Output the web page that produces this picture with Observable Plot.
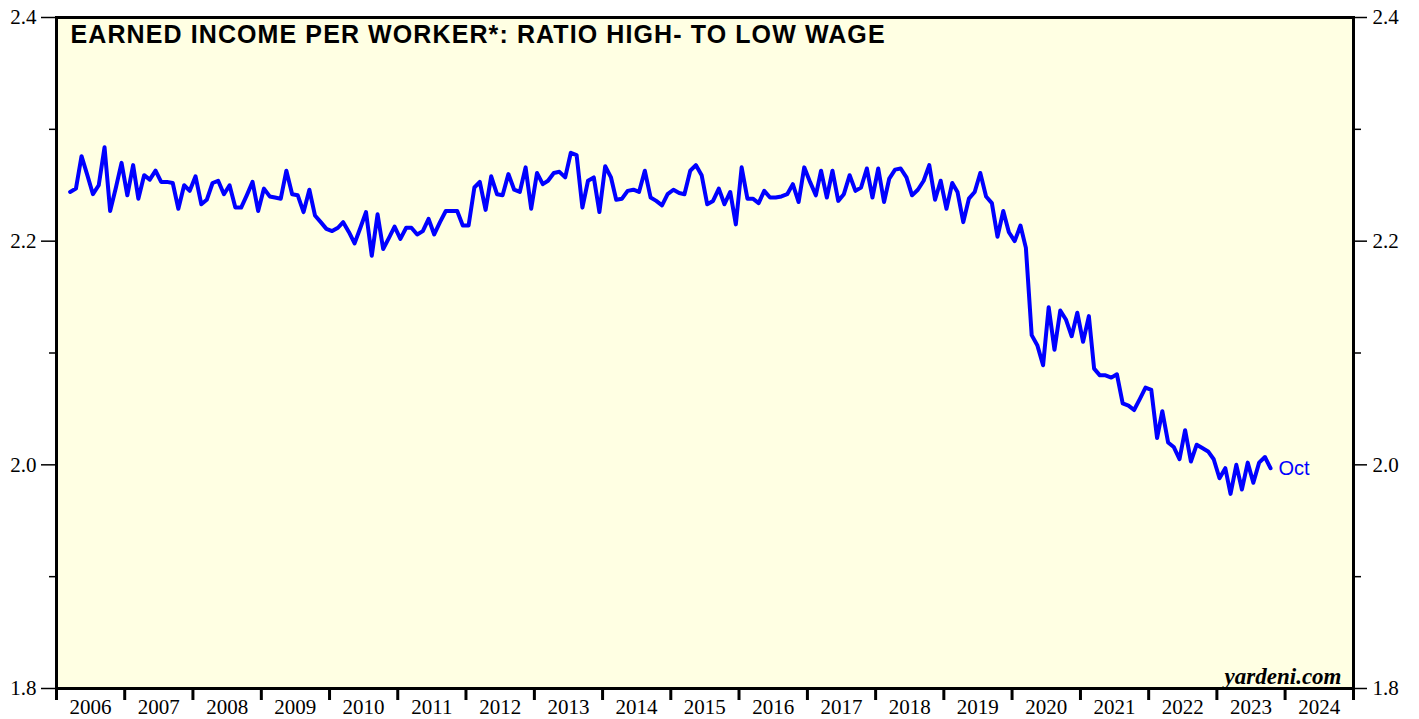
<!DOCTYPE html>
<html><head><meta charset="utf-8">
<script src="https://cdn.jsdelivr.net/npm/d3@7"></script>
<script src="https://cdn.jsdelivr.net/npm/@observablehq/plot@0.6"></script>
<style>
html,body{margin:0;padding:0;background:#fff;overflow:hidden;}
</style></head><body><div id="chart"></div>
<script>
// Monthly series, first value = March 2006, last value = October 2023
const startYear = 2006;
const startMonth = 2; // 0-based: March
const ratio = [
  2.244,2.247,2.276,2.259,2.242,2.250,2.284,2.227,2.248,2.270,
  2.241,2.268,2.238,2.259,2.255,2.263,2.253,2.253,2.252,2.229,
  2.250,2.245,2.258,2.233,2.237,2.252,2.254,2.242,2.250,2.230,
  2.230,2.241,2.253,2.227,2.247,2.240,2.239,2.238,2.263,2.242,
  2.241,2.226,2.246,2.223,2.217,2.211,2.209,2.212,2.217,2.208,
  2.198,2.212,2.226,2.187,2.224,2.193,2.203,2.213,2.202,2.212,
  2.212,2.206,2.209,2.220,2.206,2.217,2.227,2.227,2.227,2.214,
  2.214,2.248,2.253,2.228,2.258,2.242,2.241,2.260,2.246,2.244,
  2.266,2.229,2.261,2.251,2.254,2.261,2.262,2.257,2.279,2.277,
  2.230,2.254,2.257,2.226,2.267,2.257,2.237,2.238,2.245,2.246,
  2.244,2.263,2.239,2.236,2.232,2.242,2.246,2.243,2.242,2.263,
  2.268,2.259,2.233,2.236,2.247,2.233,2.244,2.215,2.266,2.238,
  2.238,2.234,2.245,2.239,2.239,2.240,2.242,2.251,2.235,2.266,
  2.253,2.241,2.263,2.239,2.263,2.236,2.242,2.259,2.245,2.248,
  2.265,2.239,2.265,2.235,2.256,2.264,2.265,2.257,2.241,2.246,
  2.254,2.268,2.237,2.254,2.229,2.252,2.244,2.217,2.238,2.244,
  2.261,2.240,2.234,2.204,2.227,2.208,2.200,2.214,2.194,2.116,
  2.107,2.089,2.141,2.103,2.138,2.130,2.115,2.136,2.110,2.133,
  2.086,2.080,2.080,2.078,2.081,2.055,2.053,2.049,2.059,2.069,
  2.067,2.024,2.048,2.020,2.016,2.005,2.031,2.003,2.018,2.015,
  2.012,2.005,1.988,1.997,1.974,2.000,1.978,2.002,1.984,2.002,
  2.007,1.997
];
const yMajor = [1.8, 2.0, 2.2, 2.4];
const yMinor = [1.9, 2.1, 2.3];
const yearStarts = d3.range(2006, 2026);
const yearLabels = d3.range(2006, 2025);
const title = "EARNED INCOME PER WORKER*: RATIO HIGH- TO LOW WAGE";
const source = "yardeni.com";
const lastLabel = "Oct";

const data = ratio.map((v, i) => ({date: new Date(Date.UTC(startYear, startMonth + i, 15)), value: v}));
const last = data[data.length - 1];
const serif = "'Liberation Serif', 'Times New Roman', serif";
const sans = "'Liberation Sans', Arial, sans-serif";

const chart = Plot.plot({
  width: 1419,
  height: 719,
  marginLeft: 56,
  marginRight: 66,
  marginTop: 17,
  marginBottom: 31,
  style: {fontFamily: serif, background: "white", color: "black"},
  x: {type: "utc", domain: [new Date(Date.UTC(2006, 0, 1)), new Date(Date.UTC(2025, 0, 1))]},
  y: {domain: [1.8, 2.4]},
  marks: [
    Plot.frame({fill: "#ffffe3", stroke: null}),
    Plot.line(data, {x: "date", y: "value", stroke: "#0000ff", strokeWidth: 4, strokeLinejoin: "round"}),
    Plot.text([last], {x: "date", y: "value", text: () => lastLabel, dx: 8, dy: 0, textAnchor: "start",
      fill: "#0000ff", fontSize: 20, fontFamily: sans}),
    Plot.text([title], {frameAnchor: "top-left", dx: 14, dy: 8, fontSize: 25, fontWeight: "bold", fontFamily: sans,
      fill: "black"}),
    Plot.text([source], {frameAnchor: "bottom-right", dx: -12, dy: -5, fontSize: 23, fontWeight: "bold",
      fontStyle: "italic", fontFamily: serif, fill: "black"}),
    Plot.frame({stroke: "black", strokeWidth: 3}),
    Plot.axisY(yMajor, {anchor: "left", tickSize: 15, tickPadding: 5, fontSize: 21, fontFamily: serif,
      tickFormat: d => d.toFixed(1), strokeWidth: 1.5, label: null}),
    Plot.axisY(yMinor, {anchor: "left", tickSize: 7, tickFormat: () => "", strokeWidth: 1.5, label: null}),
    Plot.axisY(yMajor, {anchor: "right", tickSize: 13, tickPadding: 6, fontSize: 21, fontFamily: serif,
      tickFormat: d => d.toFixed(1), strokeWidth: 1.5, label: null}),
    Plot.axisY(yMinor, {anchor: "right", tickSize: 7, tickFormat: () => "", strokeWidth: 1.5, label: null}),
    Plot.axisX(yearStarts.map(y => new Date(Date.UTC(y, 0, 1))), {tickSize: 12, tickFormat: () => "",
      strokeWidth: 3, label: null}),
    Plot.axisX(yearLabels.map(y => new Date(Date.UTC(y, 6, 2))), {tickSize: 0, tickPadding: 11, fontSize: 21,
      fontFamily: serif, tickFormat: d => String(d.getUTCFullYear()), label: null})
  ]
});
// widen the title's letter spacing to match the reference's wider lettering
d3.select(chart).selectAll("text").filter(function() { return this.textContent === title; })
  .style("letter-spacing", "1.1px");
document.getElementById("chart").appendChild(chart);
</script>
</body></html>
